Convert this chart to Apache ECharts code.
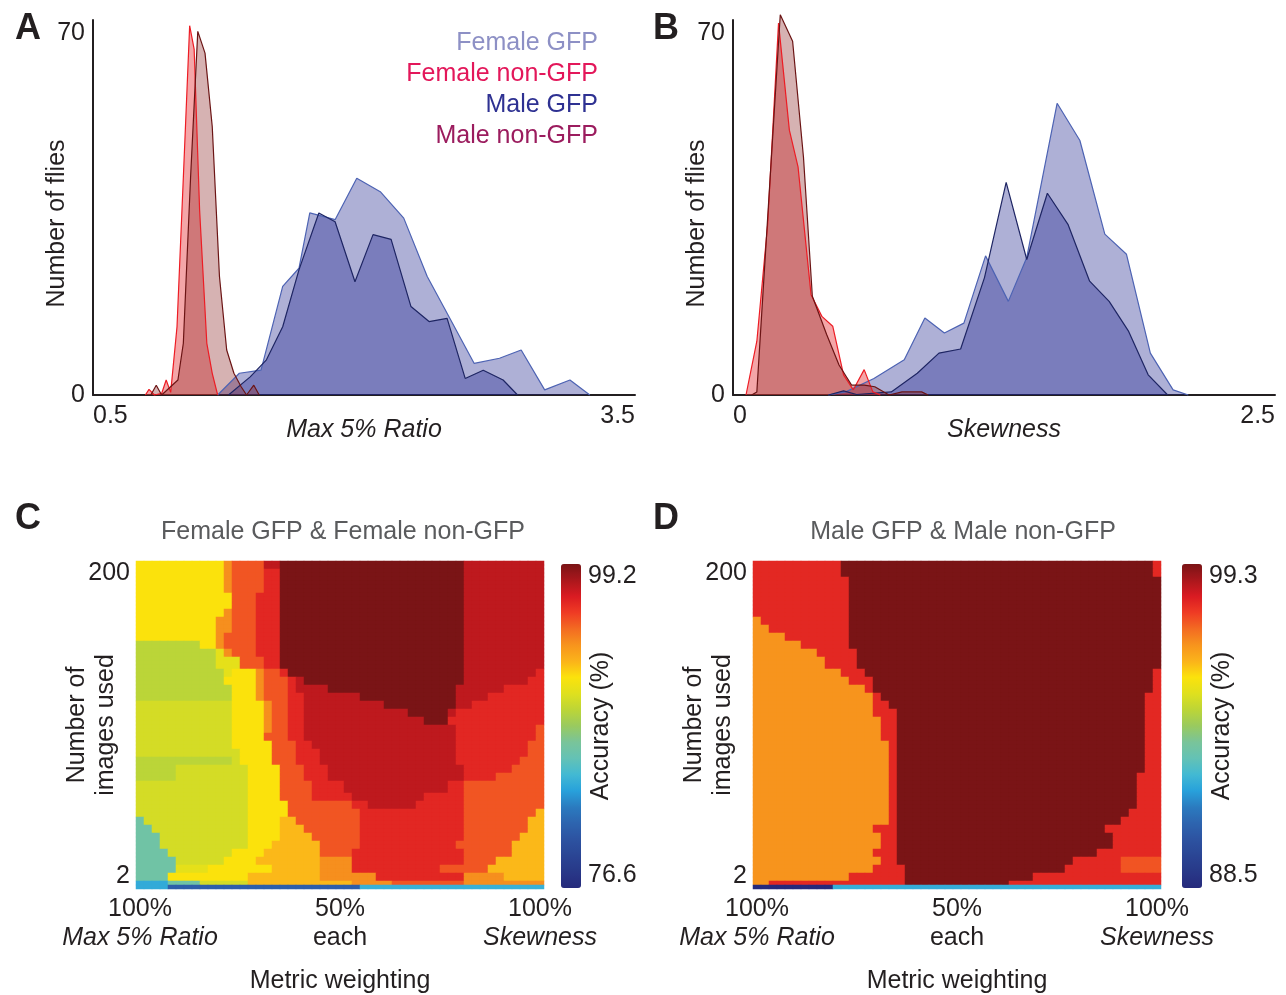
<!DOCTYPE html>
<html>
<head>
<meta charset="utf-8">
<title>GFP fly classification</title>
<script src="https://cdn.jsdelivr.net/npm/echarts@6/dist/echarts.min.js"></script>
<style>
  html, body { margin: 0; padding: 0; background: #fff; }
  #main { width: 1286px; height: 995px; }
</style>
</head>
<body>
<div id="main"></div>
<script>
// ---- panel A: Max 5% Ratio histograms (x = bin, y = number of flies)
const aFemaleGfpX = [1.19, 1.31, 1.43, 1.55, 1.64, 1.70, 1.84, 1.96, 2.09, 2.22, 2.35, 2.46, 2.61, 2.75, 2.87, 3.00, 3.14, 3.25];
const aFemaleGfpY = [0, 4.2, 4.8, 21.0, 24.5, 35.2, 33.9, 41.9, 39.3, 34.2, 22.9, 15.8, 6.1, 7.1, 8.7, 1.0, 2.9, 0];
const aMaleGfpX = [1.25, 1.37, 1.46, 1.55, 1.64, 1.75, 1.84, 1.95, 2.05, 2.15, 2.26, 2.36, 2.46, 2.56, 2.66, 2.77, 2.85];
const aMaleGfpY = [0, 3.5, 6.8, 13.2, 24.2, 35.2, 33.5, 21.9, 31.0, 30.1, 17.1, 14.2, 14.8, 3.2, 4.8, 2.9, 0];
const aFemaleNonX = [0.79, 0.81, 0.84, 0.88, 0.905, 0.93, 0.965, 1.00, 1.035, 1.06, 1.09, 1.13, 1.16, 1.19];
const aFemaleNonY = [0, 1.1, 0, 0.3, 2.9, 0.5, 13.2, 42, 71.4, 66.8, 35.8, 10, 4.2, 0];
const aMaleNonX = [0.82, 0.85, 0.88, 0.97, 1.00, 1.04, 1.08, 1.12, 1.16, 1.20, 1.24, 1.28, 1.32, 1.35, 1.39, 1.42];
const aMaleNonY = [0, 1.9, 0, 2.9, 10, 42, 70.3, 66.1, 51.9, 22.9, 8.7, 4.2, 1.6, 0, 1.9, 0];

// ---- panel B: Skewness histograms
const bFemaleGfpX = [0.44, 0.52, 0.65, 0.79, 0.885, 0.975, 1.065, 1.165, 1.27, 1.355, 1.495, 1.60, 1.715, 1.815, 1.925, 2.03, 2.10];
const bFemaleGfpY = [0, 0.6, 3.2, 6.8, 14.9, 12.0, 13.9, 26.9, 18.1, 26.6, 56.4, 49.2, 31.1, 27.2, 8.1, 1.0, 0];
const bMaleGfpX = [0.44, 0.51, 0.57, 0.73, 0.85, 0.95, 1.05, 1.16, 1.26, 1.355, 1.45, 1.545, 1.645, 1.735, 1.825, 1.915, 2.005];
const bMaleGfpY = [0, 0.8, 0.1, 0.6, 4.2, 8.1, 8.9, 22.7, 41.1, 26.2, 39.0, 33.0, 22.0, 18.1, 12.3, 3.9, 0];
const bFemaleNonX = [0.06, 0.11, 0.16, 0.21, 0.26, 0.30, 0.36, 0.41, 0.46, 0.51, 0.555, 0.605, 0.645, 0.68];
const bFemaleNonY = [0, 10.4, 33, 71.9, 51.2, 44.1, 19.4, 15.2, 13.3, 3.9, 1.0, 4.9, 0.6, 0];
const bMaleNonX = [0.086, 0.11, 0.218, 0.275, 0.325, 0.366, 0.432, 0.489, 0.547, 0.605, 0.654, 0.72, 0.78, 0.87, 0.90];
const bMaleNonY = [0, 0.6, 73.5, 68.4, 46, 19.1, 11.7, 5.8, 1.9, 1.9, 1.6, 0, 0.6, 0.6, 0];

const seriesNames = ['Female GFP', 'Female non-GFP', 'Male GFP', 'Male non-GFP'];
const legendColors = ['#8d90c5', '#e3175a', '#2e3192', '#9b1c5e'];

// ---- panels C, D: accuracy maps, rows from 200 images (top) down to 2 (bottom)
// each row = [number of thin rows, runs]; run = level letter + number of weighting columns
const cRows = [
  [2, 'Y11 O1 E4 C2 D23 C10'], [2, 'Y11 O1 E4 R2 D23 C10'], [2, 'Y11 O1 E4 R2 D23 C10'],
  [2, 'Y11 O1 E4 R2 D23 C10'], [2, 'Y12 E3 R3 D23 C10'], [2, 'Y12 E3 R3 D23 C10'],
  [2, 'Y11 O1 E3 R3 D23 C10'], [2, 'Y10 O2 E3 R3 D23 C10'], [2, 'Y10 O2 E3 R3 D23 C10'],
  [2, 'Y10 O1 E4 R3 D23 C10'], [2, 'G8 Y2 O1 E4 R3 D23 C10'], [2, 'G10 L1 O1 E3 R3 D23 C10'],
  [3, 'G10 L3 E3 R2 D23 C10'], [2, 'G11 L1 Y3 O1 E2 R1 D22 C9 R1'], [2, 'G11 Y4 O1 E3 R1 C1 D20 C8 R2'],
  [2, 'G12 Y3 O1 E3 R1 C4 D16 C6 R5'], [2, 'G12 Y3 O1 E3 R2 C7 D12 C4 R7'], [2, 'H12 Y4 O1 E2 R2 C10 D9 C2 R9'],
  [2, 'H12 Y4 O1 E2 R2 C13 D5 C1 R11'], [2, 'H12 Y4 O1 E2 R2 C15 D3 R12'], [2, 'H12 Y4 O1 E2 R2 C19 R10 E1'],
  [2, 'H12 Y4 E3 R2 C19 R10 E1'], [2, 'H12 Y5 E3 R2 C18 R9 E2'], [2, 'H13 Y4 E3 R3 C17 R9 E2'],
  [2, 'G12 H1 Y4 E3 R3 C17 R8 E3'], [2, 'G5 H9 Y4 E3 R3 C17 R6 E4'], [2, 'G5 H9 Y4 E3 R3 C17 R4 E6'],
  [3, 'H14 Y4 E4 R4 C13 R2 E10'], [2, 'H14 Y4 E4 R5 C9 R5 E10'], [2, 'H14 Y5 E8 R2 C6 R6 E10'],
  [2, 'H14 Y5 E9 R13 E9 A1'], [2, 'T1 H13 Y4 A2 E8 R13 E8 A2'], [2, 'T2 H12 Y4 A3 E7 R13 E8 A2'],
  [2, 'T3 H11 Y4 A4 E6 R13 E7 A3'], [2, 'T3 H11 Y3 A6 E5 R12 E7 A4'], [2, 'T4 H8 Y4 A7 E4 R14 E6 A4'],
  [2, 'T5 H6 Y4 A8 O4 R14 E4 A6'], [2, 'T5 L4 Y8 A6 O4 R11 E6 A7'], [2, 'T4 Y10 A9 O7 R11 O5 A5'],
  [1, 'B4 T4 H6 A13 O5 E9 O10'], [1, 'B4 V24 S23']
];
const cLevels = { D: 99.2, C: 97.6, R: 96.5, E: 95.2, O: 93.7, A: 92.3, Y: 91.3, L: 90.4, H: 89.8, G: 89.0, T: 86.3, S: 84.1, B: 83.8, V: 80.7 };
const cRange = [76.6, 99.2];

const dRows = [
  [2, 'R11 D39 R1'], [2, 'R11 D39 R1'], [2, 'R12 D39'], [2, 'R12 D39'], [2, 'R12 D39'],
  [2, 'R12 D39'], [2, 'R12 D39'], [2, 'O1 R11 D39'], [2, 'O2 R10 D39'], [2, 'O4 R8 D39'],
  [2, 'O6 R6 D39'], [2, 'O8 R5 D38'], [3, 'O9 R4 D38'], [2, 'O11 R3 D36 R1'], [2, 'O12 R3 D35 R1'],
  [2, 'O14 R1 D35 R1'], [2, 'O15 R1 D33 R2'], [2, 'O15 R2 D32 R2'], [2, 'O15 R3 D31 R2'], [2, 'O16 R2 D31 R2'],
  [2, 'O16 R2 D31 R2'], [2, 'O16 R2 D31 R2'], [2, 'O17 R1 D31 R2'], [2, 'O17 R1 D31 R2'], [2, 'O17 R1 D31 R2'],
  [2, 'O17 R1 D31 R2'], [2, 'O17 R1 D30 R3'], [3, 'O17 R1 D30 R3'], [2, 'O17 R1 D30 R3'], [2, 'O17 R1 D30 R3'],
  [2, 'O17 R1 D29 R4'], [2, 'O17 R1 D28 R5'], [2, 'O15 R3 D26 R7'], [2, 'O16 R2 D27 R6'], [2, 'O16 R2 D27 R6'],
  [2, 'O15 R3 D25 R8'], [2, 'O16 R2 D22 R6 E5'], [2, 'O15 R4 D20 R7 E5'], [2, 'O12 R7 D16 R16'],
  [1, 'O2 R17 D13 R19'], [1, 'P10 S41']
];
const dLevels = { D: 99.3, R: 98.0, E: 97.4, O: 96.6, S: 92.0, P: 88.5 };
const dRange = [88.5, 99.3];

const weightTicks = ['100%', '50%', '100%'];
const weightNames = ['Max 5% Ratio', 'each', 'Skewness'];
const imageTicks = [2, 200];

// colour scale of the accuracy bars, low -> high
const accuracyColors = ['#262a7c', '#283888', '#2a4594', '#2d53a1', '#2d64af', '#2b7bbf', '#28a1db',
  '#42b9d3', '#64c2b5', '#79c49a', '#99ca5f', '#bcd537', '#dfe01e', '#fbe20c', '#fbb31a',
  '#f7941d', '#f36b22', '#ef3b24', '#da1b22', '#aa171c', '#7a1416'];

const textColor = '#231f20';
const fontFamily = '"Liberation Sans", Arial, Helvetica, sans-serif';
const fs = 25;

function expandRows(rows, levels) {
  const data = [];
  let y = 0, cols = 0;
  rows.forEach(([rep, runs]) => {
    const cells = [];
    runs.split(' ').forEach((run) => {
      const v = levels[run[0]];
      const n = parseInt(run.slice(1), 10);
      for (let k = 0; k < n; k++) cells.push(v);
    });
    cols = cells.length;
    for (let j = 0; j < rep; j++) {
      cells.forEach((v, x) => data.push([x, y, v]));
      y++;
    }
  });
  return { data, rows: y, cols };
}

const cMap = expandRows(cRows, cLevels);
const dMap = expandRows(dRows, dLevels);

const histStyle = {
  'Female GFP': { line: '#4d63b3', fill: 'rgba(30,35,140,0.36)' },
  'Male GFP': { line: '#1e2563', fill: 'rgba(30,35,140,0.36)' },
  'Female non-GFP': { line: '#ed1c24', fill: 'rgba(231,57,62,0.45)' },
  'Male non-GFP': { line: '#6b1414', fill: 'rgba(138,35,35,0.35)' }
};

function histSeries(name, xs, ys, axisIdx) {
  const st = histStyle[name];
  return {
    name, type: 'line', xAxisIndex: axisIdx, yAxisIndex: axisIdx,
    data: xs.map((x, i) => [x, ys[i]]),
    symbol: 'none', clip: false, silent: true,
    lineStyle: { color: st.line, width: 1.2 },
    itemStyle: { color: st.line },
    areaStyle: { color: st.fill, opacity: 1 }
  };
}

function histX(gridIndex, min, max, name, fmt) {
  return {
    gridIndex, type: 'value', min, max,
    axisLine: { show: true, onZero: false, lineStyle: { color: textColor, width: 2 } },
    axisTick: { show: false }, splitLine: { show: false },
    axisLabel: { customValues: [min, max], alignMinLabel: 'left', alignMaxLabel: 'right',
      fontSize: fs, color: textColor, fontFamily, margin: 9, formatter: fmt },
    name, nameLocation: 'middle', nameGap: 23, nameMoveOverlap: false,
    nameTextStyle: { fontSize: fs, fontStyle: 'italic', color: textColor, fontFamily }
  };
}

function histY(gridIndex) {
  return {
    gridIndex, type: 'value', min: 0, max: 72.5,
    axisLine: { show: true, lineStyle: { color: textColor, width: 2 } },
    axisTick: { show: false }, splitLine: { show: false },
    axisLabel: { customValues: [0, 70], fontSize: fs, color: textColor, fontFamily, margin: 8 },
    name: 'Number of flies', nameLocation: 'middle', nameGap: 23, nameRotate: 90, nameMoveOverlap: false,
    nameTextStyle: { fontSize: fs, color: textColor, fontFamily, padding: [0, 32, 0, 0] }
  };
}

function mapX(gridIndex, cols) {
  return {
    gridIndex, type: 'category', data: Array.from({ length: cols }, (_, i) => i * 2),
    axisLine: { show: false }, axisTick: { show: false }, splitLine: { show: false },
    axisLabel: {
      interval: (i) => i % 25 === 0, margin: 6,
      formatter: (v, i) => {
        const k = Math.round(i / 25);
        const style = k === 1 ? 'n' : 'it';
        return '{n|' + weightTicks[k] + '}\n{' + style + '|' + weightNames[k] + '}';
      },
      rich: {
        n: { fontSize: fs, color: textColor, fontFamily, lineHeight: 29 },
        it: { fontSize: fs, color: textColor, fontFamily, fontStyle: 'italic', lineHeight: 29 }
      }
    },
    name: 'Metric weighting', nameLocation: 'middle', nameGap: 80, nameMoveOverlap: false,
    nameTextStyle: { fontSize: fs, color: textColor, fontFamily }
  };
}

function mapYCat(gridIndex, rows) {
  return { gridIndex, type: 'category', inverse: true, show: false,
    data: Array.from({ length: rows }, (_, i) => i) };
}

function mapYLabels(gridIndex) {
  return {
    gridIndex, type: 'value', min: imageTicks[0], max: imageTicks[1], position: 'left',
    axisLine: { show: false }, axisTick: { show: false }, splitLine: { show: false },
    axisLabel: { customValues: imageTicks, verticalAlignMinLabel: 'bottom', verticalAlignMaxLabel: 'top',
      fontSize: fs, color: textColor, fontFamily, margin: 6 },
    name: 'Number of\nimages used', nameLocation: 'middle', nameGap: 15, nameRotate: 90, nameMoveOverlap: false,
    nameTextStyle: { fontSize: fs, color: textColor, fontFamily, lineHeight: 29 }
  };
}

function barY(gridIndex, range) {
  return {
    gridIndex, type: 'value', min: range[0], max: range[1], position: 'right',
    axisLine: { show: false }, axisTick: { show: false }, splitLine: { show: false },
    axisLabel: { customValues: range, verticalAlignMinLabel: 'bottom', verticalAlignMaxLabel: 'top',
      fontSize: fs, color: textColor, fontFamily, margin: 7, formatter: (v) => v.toFixed(1) },
    name: 'Accuracy (%)', nameLocation: 'middle', nameGap: 8, nameRotate: 90, nameMoveOverlap: false,
    nameTextStyle: { fontSize: fs, color: textColor, fontFamily }
  };
}

function heatSeries(map, xIdx, yIdx) {
  return {
    type: 'heatmap', xAxisIndex: xIdx, yAxisIndex: yIdx, data: map.data,
    silent: true, progressive: 0, itemStyle: { borderWidth: 0 }, emphasis: { disabled: true }
  };
}

const letter = (text, left, top) => ({ text, left, top,
  textStyle: { fontSize: 36, fontWeight: 'bold', color: textColor, fontFamily } });
const heading = (text, left) => ({ text, left, top: 515, textAlign: 'center',
  textStyle: { fontSize: fs, fontWeight: 'normal', color: '#5a5b5d', fontFamily } });

const option = {
  animation: false,
  backgroundColor: '#fff',
  title: [
    letter('A', 10, 6), letter('B', 648, 6), letter('C', 10, 496), letter('D', 648, 496),
    heading('Female GFP & Female non-GFP', 338), heading('Male GFP & Male non-GFP', 958)
  ],
  legend: {
    orient: 'vertical', right: 683, top: 31, icon: 'none', itemWidth: 0, itemHeight: 24, itemGap: 6,
    align: 'right', selectedMode: false, padding: 0,
    textStyle: { fontSize: fs, fontFamily },
    data: seriesNames.map((n, i) => ({ name: n, textStyle: { color: legendColors[i] } }))
  },
  grid: [
    { left: 93, top: 20, width: 542, height: 375, outerBoundsMode: 'none' },
    { left: 733, top: 20, width: 542, height: 375, outerBoundsMode: 'none' },
    { left: 136, top: 561, width: 408, height: 328, outerBoundsMode: 'none' },
    { left: 753, top: 561, width: 408, height: 328, outerBoundsMode: 'none' },
    { left: 561, top: 564, width: 20, height: 324, outerBoundsMode: 'none' },
    { left: 1182, top: 564, width: 20, height: 324, outerBoundsMode: 'none' }
  ],
  xAxis: [
    histX(0, 0.5, 3.5, 'Max 5% Ratio', (v) => v.toFixed(1)),
    histX(1, 0, 2.5, 'Skewness', (v) => (v === 0 ? '0' : v.toFixed(1))),
    mapX(2, cMap.cols),
    mapX(3, dMap.cols),
    { gridIndex: 4, type: 'value', min: 0, max: 1, show: false },
    { gridIndex: 5, type: 'value', min: 0, max: 1, show: false }
  ],
  yAxis: [
    histY(0), histY(1),
    mapYCat(2, cMap.rows), mapYLabels(2),
    mapYCat(3, dMap.rows), mapYLabels(3),
    barY(4, cRange), barY(5, dRange)
  ],
  visualMap: [
    { type: 'continuous', seriesIndex: 8, min: cRange[0], max: cRange[1], left: 561, top: 564,
      itemWidth: 20, itemHeight: 324, padding: 0, calculable: false, hoverLink: false,
      inRange: { color: accuracyColors } },
    { type: 'continuous', seriesIndex: 9, min: dRange[0], max: dRange[1], left: 1182, top: 564,
      itemWidth: 20, itemHeight: 324, padding: 0, calculable: false, hoverLink: false,
      inRange: { color: accuracyColors } }
  ],
  series: [
    histSeries('Female GFP', aFemaleGfpX, aFemaleGfpY, 0),
    histSeries('Male GFP', aMaleGfpX, aMaleGfpY, 0),
    histSeries('Female non-GFP', aFemaleNonX, aFemaleNonY, 0),
    histSeries('Male non-GFP', aMaleNonX, aMaleNonY, 0),
    histSeries('Female GFP', bFemaleGfpX, bFemaleGfpY, 1),
    histSeries('Male GFP', bMaleGfpX, bMaleGfpY, 1),
    histSeries('Female non-GFP', bFemaleNonX, bFemaleNonY, 1),
    histSeries('Male non-GFP', bMaleNonX, bMaleNonY, 1),
    heatSeries(cMap, 2, 2),
    heatSeries(dMap, 3, 4)
  ]
};

const chart = echarts.init(document.getElementById('main'));
chart.setOption(option);
</script>
</body>
</html>
